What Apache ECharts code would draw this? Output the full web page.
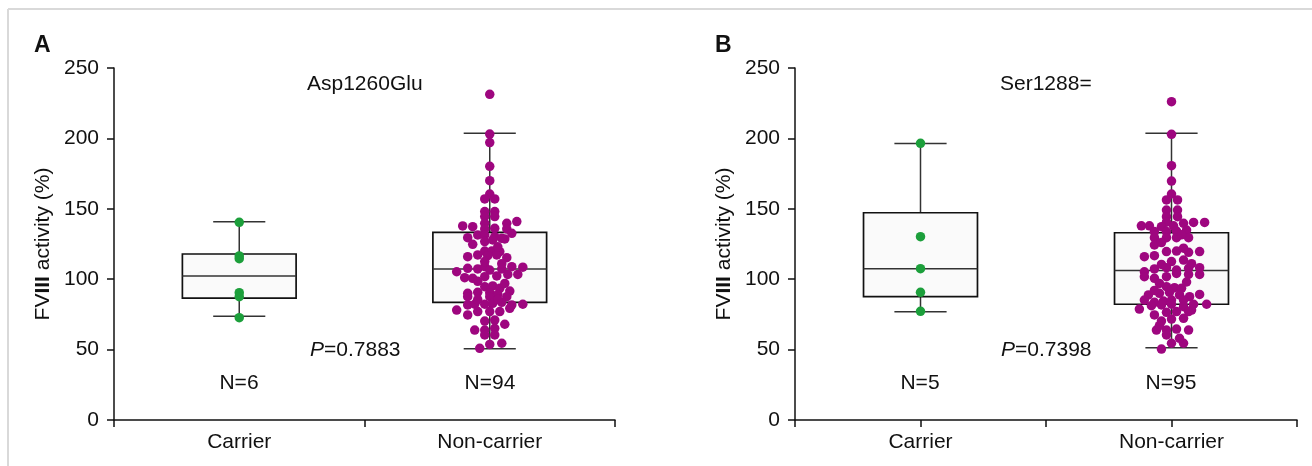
<!DOCTYPE html>
<html>
<head>
<meta charset="utf-8">
<script src="https://cdn.jsdelivr.net/npm/echarts@6/dist/echarts.min.js"></script>
<style>
  html, body { margin: 0; padding: 0; background: #fff; }
  #main { width: 1312px; height: 466px; }
</style>
</head>
<body>
<div id="main"></div>
<script>
// categories on the x axis (carrier at 0.5, non-carrier at 1.5)
var categories = ['Carrier', 'Non-carrier'];
var yTicks = [0, 50, 100, 150, 200, 250];

// box stats: [min, Q1, median, Q3, max]
var boxCarrierA = [73.6, 86.6, 102.3, 117.9, 140.8];
var boxNonCarrierA = [50.6, 83.6, 107.2, 133.3, 203.6];
var boxCarrierB = [76.9, 87.6, 107.5, 147.2, 196.3];
var boxNonCarrierB = [51.4, 82.2, 106.1, 133.0, 203.6];

// individual points: [value, horizontal jitter in axis units]
var carrierA = [[140.4, 0], [116.5, 0], [114.6, 0], [90.4, 0], [87.6, 0], [72.7, 0]];
var carrierB = [[196.5, 0], [130.2, 0], [107.5, 0], [90.7, 0], [77.2, 0]];

var nonCarrierA = [
    [231.3, 0], [203.1, 0], [197.0, 0], [180.2, 0], [170.0, 0], [160.5, 0],
    [157.0, -0.02], [157.0, 0.02], [148.0, -0.02], [148.0, 0.02], [144.5, -0.02], [144.5, 0.02],
    [139.7, -0.02], [139.7, 0.068], [140.9, 0.108], [137.8, -0.108], [137.3, -0.068],
    [135.7, -0.02], [136.1, 0.02], [135.7, 0.068], [129.5, -0.088], [131.4, -0.048],
    [131.4, -0.02], [130.2, 0.02], [128.6, 0.06], [132.6, 0.088], [124.8, -0.068],
    [126.7, -0.02], [127.9, 0.012], [129.0, 0.048], [120.0, -0.02], [120.0, 0.008],
    [119.6, 0.04], [116.0, -0.088], [117.2, -0.048], [116.7, -0.008], [117.2, 0.028],
    [115.3, 0.068], [105.3, -0.132], [107.7, -0.088], [107.3, -0.048], [108.9, -0.02],
    [106.5, 0], [107.3, 0.048], [108.9, 0.088], [108.5, 0.132], [101.1, -0.1],
    [100.6, -0.068], [101.8, -0.02], [102.3, 0.028], [103.4, 0.072], [103.4, 0.112],
    [94.7, -0.02], [95.2, 0.012], [93.5, 0.04], [90.0, -0.088], [90.7, -0.048],
    [90.4, 0], [89.2, 0.032], [91.6, 0.08], [87.6, -0.088], [87.6, 0], [87.6, 0.068],
    [78.1, -0.132], [81.7, -0.088], [82.2, -0.06], [82.2, -0.02], [82.9, 0.012],
    [83.6, 0.048], [81.7, 0.088], [82.2, 0.132], [74.6, -0.088], [77.0, -0.048],
    [77.0, 0], [77.0, 0.04], [79.3, 0.08], [70.3, -0.02], [71.0, 0.02],
    [63.9, -0.06], [63.9, -0.02], [65.1, 0.02], [60.4, -0.02], [60.4, 0.02],
    [50.9, -0.04], [53.7, 0], [54.5, 0.048],
    [98.5, -0.048], [97.0, 0.06], [85.5, -0.048], [85.5, 0.032], [112.5, -0.02],
    [111.0, 0.048], [123.0, 0.032], [68.0, 0.06]
];

var nonCarrierB = [
    [226.1, 0], [202.9, 0], [180.6, 0], [169.7, 0], [160.5, 0],
    [156.3, -0.02], [156.3, 0.024], [149.1, -0.02], [149.1, 0.024], [144.4, -0.02], [144.4, 0.024],
    [140.5, -0.02], [137.9, -0.12], [137.9, -0.088], [137.3, -0.04], [137.9, 0.008],
    [139.7, 0.048], [140.3, 0.088], [140.3, 0.132], [133.8, -0.068], [133.8, -0.02],
    [134.2, 0.02], [134.9, 0.06], [129.5, -0.068], [129.5, -0.02], [129.5, 0.02],
    [129.5, 0.068], [124.3, -0.068], [116.0, -0.108], [116.7, -0.068], [119.6, -0.02],
    [120.0, 0.02], [119.1, 0.068], [119.6, 0.112], [110.5, -0.04], [112.5, 0],
    [113.6, 0.048], [105.3, -0.108], [107.3, -0.068], [108.2, -0.02], [106.5, 0.02],
    [107.7, 0.068], [108.2, 0.112], [101.8, -0.108], [100.6, -0.068], [101.8, -0.02],
    [104.1, 0.02], [103.4, 0.068], [103.4, 0.112], [94.7, -0.02], [94.0, 0.012],
    [93.5, 0.04], [88.8, -0.092], [90.0, -0.048], [90.7, -0.008], [88.8, 0.032],
    [87.6, 0.072], [89.2, 0.112], [85.2, -0.108], [83.6, -0.068], [84.5, -0.032],
    [85.2, 0], [85.2, 0.048], [82.2, 0.088], [82.2, 0.14], [78.8, -0.128],
    [81.2, -0.08], [81.7, -0.04], [82.2, 0], [80.5, 0.048], [78.1, 0.08],
    [74.6, -0.068], [76.5, -0.02], [77.0, 0.02], [77.0, 0.068], [70.3, -0.04],
    [71.7, 0], [72.2, 0.048], [63.9, -0.06], [63.9, -0.02], [64.6, 0.02],
    [63.9, 0.068], [60.4, -0.02], [50.4, -0.04], [54.5, 0], [54.5, 0.048],
    [131.5, 0.04], [126.0, -0.04], [97.0, -0.048], [98.0, 0.06], [111.0, 0.08],
    [67.0, -0.048], [58.0, 0.032], [92.0, -0.068], [122.0, 0.048]
];

var GREEN = '#1c9f3b';
var PURPLE = '#9e067f';
var INK = '#111';
var FONT = 'Liberation Sans, Arial, sans-serif';

function toPoints(list, center) {
    return list.map(function (p) { return [center + p[1], p[0]]; });
}

function boxSeries(gridIdx, stats) {
    return {
        type: 'custom',
        xAxisIndex: gridIdx,
        yAxisIndex: gridIdx,
        z: 2,
        silent: true,
        data: stats,
        renderItem: function (params, api) {
            var x = api.value(0);
            var lo = api.coord([x, api.value(1)]);
            var q1 = api.coord([x, api.value(2)]);
            var md = api.coord([x, api.value(3)]);
            var q3 = api.coord([x, api.value(4)]);
            var hi = api.coord([x, api.value(5)]);
            var hw = api.size([0.227, 0])[0];
            var cw = api.size([0.104, 0])[0];
            var ls = { stroke: '#333', lineWidth: 1.5 };
            return {
                type: 'group',
                children: [
                    { type: 'line', shape: { x1: hi[0], y1: hi[1], x2: q3[0], y2: q3[1] }, style: ls },
                    { type: 'line', shape: { x1: lo[0], y1: lo[1], x2: q1[0], y2: q1[1] }, style: ls },
                    { type: 'line', shape: { x1: hi[0] - cw, y1: hi[1], x2: hi[0] + cw, y2: hi[1] }, style: ls },
                    { type: 'line', shape: { x1: lo[0] - cw, y1: lo[1], x2: lo[0] + cw, y2: lo[1] }, style: ls },
                    { type: 'rect', shape: { x: q3[0] - hw, y: q3[1], width: hw * 2, height: q1[1] - q3[1] },
                      style: { fill: '#fafafa', stroke: INK, lineWidth: 1.7 } },
                    { type: 'line', shape: { x1: md[0] - hw, y1: md[1], x2: md[0] + hw, y2: md[1] }, style: ls }
                ]
            };
        }
    };
}

function dotSeries(gridIdx, data, color) {
    return {
        type: 'scatter',
        xAxisIndex: gridIdx,
        yAxisIndex: gridIdx,
        z: 3,
        symbolSize: 9.5,
        itemStyle: { color: color, opacity: 1 },
        data: data
    };
}

function xAxisFor(gridIdx, ticks) {
    return {
        type: 'value', gridIndex: gridIdx, min: 0, max: 2,
        axisLine: { onZero: false, lineStyle: { color: INK, width: 1.5 } },
        axisTick: { show: true, length: 7, customValues: ticks, lineStyle: { color: INK, width: 1.5 } },
        axisLabel: {
            customValues: [0.5, 1.5], margin: 12, fontSize: 21, color: INK, fontFamily: FONT,
            formatter: function (v) { return categories[Math.floor(v)]; }
        },
        splitLine: { show: false }
    };
}

function yAxisFor(gridIdx) {
    return {
        type: 'value', gridIndex: gridIdx, min: yTicks[0], max: yTicks[yTicks.length - 1], interval: 50,
        name: '{n|FV}{b|III}{n| activity (%)}',
        nameLocation: 'middle', nameGap: 60, nameRotate: 90,
        nameTextStyle: {
            rich: {
                n: { fontSize: 21, color: INK, fontFamily: FONT },
                b: { fontSize: 21, color: INK, fontFamily: FONT, fontWeight: 'bold' }
            }
        },
        axisLine: { show: true, lineStyle: { color: INK, width: 1.5 } },
        axisTick: { show: true, length: 7, lineStyle: { color: INK, width: 1.5 } },
        axisLabel: { margin: 15, fontSize: 21, color: INK, fontFamily: FONT },
        splitLine: { show: false }
    };
}

function txt(x, y, text, align, extra) {
    var style = { text: text, x: x, y: y, align: align || 'left', verticalAlign: 'middle',
                  font: '21px ' + FONT, fill: INK };
    if (extra) { for (var k in extra) style[k] = extra[k]; }
    return { type: 'text', style: style };
}

function pText(x, y, pval) {
    return {
        type: 'text',
        style: {
            x: x, y: y, verticalAlign: 'middle',
            text: '{i|P}{n|=' + pval + '}',
            rich: {
                i: { fontSize: 21, fontStyle: 'italic', fontFamily: FONT, fill: INK, color: INK },
                n: { fontSize: 21, fontFamily: FONT, fill: INK, color: INK }
            }
        }
    };
}

var chart = echarts.init(document.getElementById('main'));

var option = {
    backgroundColor: '#fff',
    animation: false,
    grid: [
        { left: 114, top: 68, width: 501, height: 352 },
        { left: 795, top: 68, width: 502, height: 352 }
    ],
    xAxis: [xAxisFor(0, [0, 1, 2]), xAxisFor(1, [0, 0.5, 1, 1.5, 2])],
    yAxis: [yAxisFor(0), yAxisFor(1)],
    series: [
        boxSeries(0, [[0.5].concat(boxCarrierA), [1.5].concat(boxNonCarrierA)]),
        dotSeries(0, toPoints(carrierA, 0.5), GREEN),
        dotSeries(0, toPoints(nonCarrierA, 1.5), PURPLE),
        boxSeries(1, [[0.5].concat(boxCarrierB), [1.5].concat(boxNonCarrierB)]),
        dotSeries(1, toPoints(carrierB, 0.5), GREEN),
        dotSeries(1, toPoints(nonCarrierB, 1.5), PURPLE)
    ],
    graphic: [
        { type: 'line', shape: { x1: 8, y1: 9, x2: 1312, y2: 9 }, style: { stroke: '#d9d9d9', lineWidth: 2 } },
        { type: 'line', shape: { x1: 8, y1: 9, x2: 8, y2: 466 }, style: { stroke: '#d9d9d9', lineWidth: 2 } },
        txt(34, 46, 'A', 'left', { font: 'bold 23px ' + FONT }),
        txt(715, 46, 'B', 'left', { font: 'bold 23px ' + FONT }),
        txt(307, 84, 'Asp1260Glu'),
        txt(1000, 84, 'Ser1288='),
        pText(310, 350, '0.7883'),
        pText(1001, 350, '0.7398'),
        txt(239, 383, 'N=6', 'center'),
        txt(490, 383, 'N=94', 'center'),
        txt(920, 383, 'N=5', 'center'),
        txt(1171, 383, 'N=95', 'center')
    ]
};

chart.setOption(option);
</script>
</body>
</html>
